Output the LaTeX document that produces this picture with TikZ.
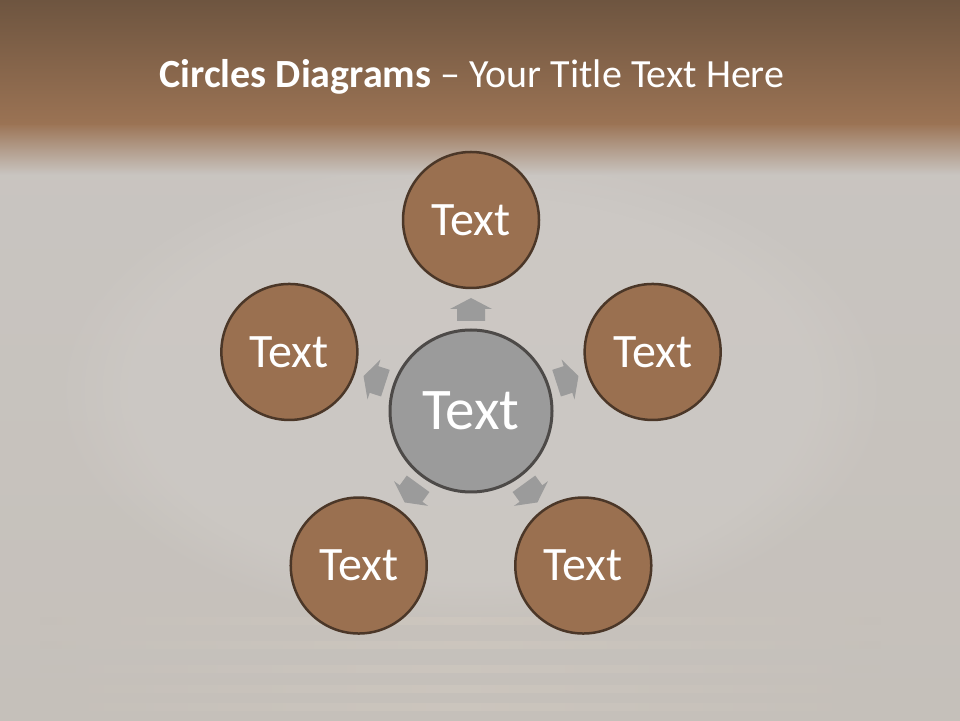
\documentclass[tikz,border=0pt]{standalone}
\usepackage{fontspec}
\setmainfont{Carlito}
\usetikzlibrary{calc,fadings}
\definecolor{bandtop}{HTML}{6E5540}
\definecolor{bandbot}{HTML}{9B7354}
\definecolor{bggray}{HTML}{C9C5C1}
\definecolor{bglight}{HTML}{CFCBC7}
\definecolor{bgbottom}{HTML}{C5C0BA}
\definecolor{stripe}{HTML}{D2CAC0}
\definecolor{brownfill}{HTML}{9A7050}
\definecolor{brownedge}{HTML}{4B3728}
\definecolor{grayfill}{HTML}{9B9B9B}
\definecolor{grayedge}{HTML}{4D4A48}
\tikzset{
  outercirc/.style={circle, fill=brownfill, draw=brownedge, line width=2.5pt,
    minimum size=136pt, inner sep=0pt, text=white, font=\fontsize{48}{48}\selectfont},
  centercirc/.style={circle, fill=grayfill, draw=grayedge, line width=3pt,
    minimum size=162pt, inner sep=0pt, text=white, font=\fontsize{59}{59}\selectfont},
  blockarrow/.style={fill=grayfill, draw=none}
}
\begin{document}
\begin{tikzpicture}[x=1pt,y=1pt]
\useasboundingbox (0,0) rectangle (960,720);
% background
\shade[top color=bggray, bottom color=bgbottom] (0,0) rectangle (960,600);
\fill[bglight, path fading=circle with fuzzy edge 20 percent, fill opacity=0.6] (471,330) ellipse (420 and 240);
\foreach \yy in {10,28,48,72,96}{
  \shade[left color=bgbottom, right color=bgbottom, middle color=stripe, opacity=0.5]
    (40,\yy) rectangle (880,\yy+7);
}
\shade[top color=bandbot, bottom color=bggray] (0,545) rectangle (960,597);
\shade[top color=bandtop, bottom color=bandbot] (0,720) rectangle (960,595);
% title
\node[text=white, anchor=base, font=\fontsize{40}{40}\selectfont] (title) at (472,632)
  {\textbf{Circles Diagrams} – Your Title Text Here};
% circles
\coordinate (c0) at (471,309);
\node[centercirc] (center) at (c0) {Text};
\node[outercirc] (top) at ($(c0)+(90:191)$) {Text};
\node[outercirc] (right) at ($(c0)+(18:191)$) {Text};
\node[outercirc] (bright) at ($(c0)+(-54:191)$) {Text};
\node[outercirc] (bleft) at ($(c0)+(-126:191)$) {Text};
\node[outercirc] (left) at ($(c0)+(162:191)$) {Text};
% block arrows
\foreach \ang in {90,18,-54,-126,162}{
  \begin{scope}[shift={(c0)}, rotate=\ang-90]
    \fill[blockarrow] (-14,90) -- (14,90) -- (14,102) -- (21,102) -- (0,113)
      -- (-21,102) -- (-14,102) -- cycle;
  \end{scope}
}
\end{tikzpicture}
\end{document}
